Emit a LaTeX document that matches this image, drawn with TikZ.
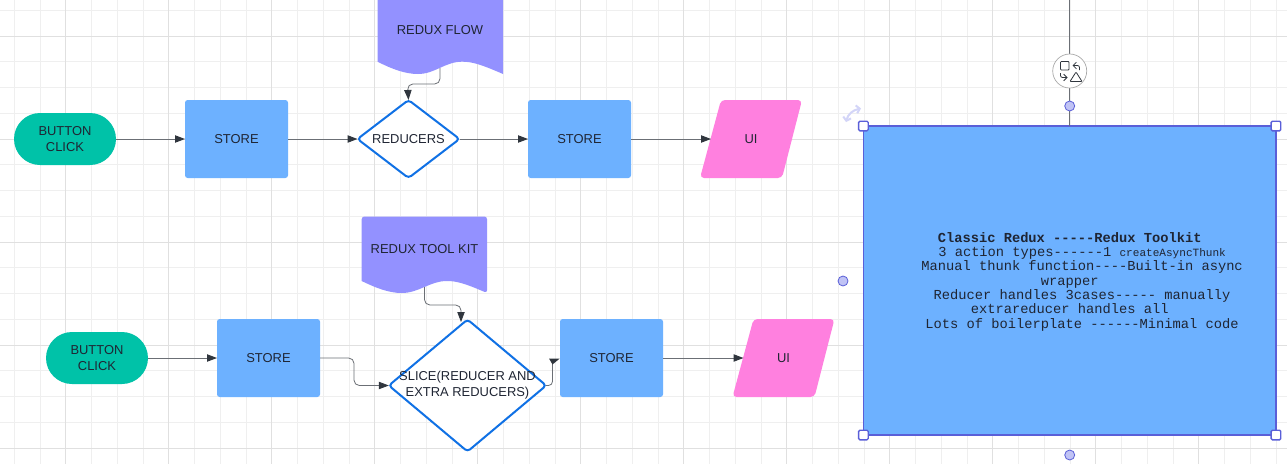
\documentclass[tikz,border=0pt]{standalone}
\usepackage{fontspec}
\setmainfont{Liberation Sans}
\newfontfamily\monotext{Liberation Mono}
\usetikzlibrary{arrows.meta,shapes.geometric}
\definecolor{gridminor}{HTML}{EFEFEF}
\definecolor{gridmajor}{HTML}{E0E0E0}
\definecolor{inkdark}{HTML}{1F2533}
\definecolor{linegray}{HTML}{6B6F75}
\definecolor{tipdark}{HTML}{30363E}
\definecolor{teal}{HTML}{00C2A8}
\definecolor{skyfill}{HTML}{6DB1FF}
\definecolor{lilac}{HTML}{9391FF}
\definecolor{pinkfill}{HTML}{FF80DF}
\definecolor{edgeblue}{HTML}{1071E5}
\definecolor{selectblue}{HTML}{5A5FD8}
\definecolor{dotfill}{HTML}{C0C3F5}
\tikzset{
  startbox/.style={fill=teal,rounded corners=19.5pt,minimum width=76.5pt,minimum height=39pt,align=center,outer sep=0pt},
  storebox/.style={fill=skyfill,rounded corners=2pt,minimum width=77.25pt,minimum height=58.5pt,outer sep=0pt},
  decision/.style={shape=diamond,draw=edgeblue,line width=1.5pt,fill=white,rounded corners=2.5pt,inner sep=0pt,outer sep=0pt},
  uilabel/.style={minimum width=60pt,minimum height=58.5pt,outer sep=0pt},
  uishape/.pic={\fill[pinkfill,rounded corners=3pt] (-30,-39) -- (51,-39) -- (31,39) -- (-51,39) -- cycle;},
  flowline/.style={draw=linegray,line width=0.75pt,-{Triangle[length=7.5pt,width=5.5pt,color=tipdark]}},
  bentline/.style={flowline,rounded corners=4pt,line width=0.6pt},
  handle/.style={draw=selectblue,fill=white,line width=1pt,rounded corners=1pt,minimum size=7.25pt,inner sep=0pt},
  sidedot/.style={circle,draw=selectblue,fill=dotfill,line width=0.6pt,minimum size=7.5pt,inner sep=0pt},
  iconline/.style={draw=tipdark,line width=0.6pt},
}
\begin{document}
\begin{tikzpicture}[x=0.75pt,y=-0.75pt,every node/.style={text=inkdark,font=\fontsize{9.7pt}{12pt}\selectfont}]
  \useasboundingbox (0,0) rectangle (1287,464);
  \fill[white] (0,0) rectangle (1287,464);
  % grid
  \foreach \k in {0,...,49} \draw[gridminor,line width=0.6pt] ({14.2+25.75*\k},0) -- ({14.2+25.75*\k},464);
  \foreach \k in {0,...,17} \draw[gridminor,line width=0.6pt] (0,{10.3+25.75*\k}) -- (1287,{10.3+25.75*\k});
  \foreach \k in {0,...,12} \draw[gridmajor,line width=0.6pt] ({65.7+103*\k},0) -- ({65.7+103*\k},464);
  \foreach \k in {0,...,4} \draw[gridmajor,line width=0.6pt] (0,{36+103*\k}) -- (1287,{36+103*\k});
  % classic row
  \fill[lilac] (377.5,0) -- (503,0) -- (503,74) .. controls (480,64) and (472,61.7) .. (462,61.7) .. controls (445,61.7) and (435,74) .. (418,74) .. controls (405,74) and (392,69) .. (377.5,61.7) -- cycle;
  \node (flowtitle) at (440,30.5) {REDUX FLOW};
  \coordinate (flowout) at (440,68);
  \coordinate (flowbend) at (407.5,84);
  \node[startbox] (click1) at (65,139) {BUTTON\\CLICK};
  \node[storebox] (store1) at (236.5,139) {STORE};
  \node[decision,minimum width=76.5pt,minimum height=58.5pt,label={center:REDUCERS}] (reducers) at (408.5,139) {};
  \node[storebox] (store2) at (579.5,139) {STORE};
  \pic at (751,139) {uishape};
  \node[uilabel] (ui1) at (751,139) {UI};
  \draw[flowline] (click1) -- (store1);
  \draw[flowline] (store1) -- (reducers);
  \draw[flowline] (reducers) -- (store2);
  \draw[flowline] (store2) -- (ui1);
  \draw[bentline] (flowout) -- (flowout |- flowbend) -- (flowbend) -- (reducers.north);
  % toolkit row
  \fill[lilac,rounded corners=2pt] (361.7,281) -- (361.7,216.5) -- (487,216.5) -- (487,293) [sharp corners] .. controls (464,283) and (456,281) .. (446.7,281) .. controls (430,281) and (419,293) .. (401.7,293) .. controls (389,293) and (376,288) .. (361.7,281);
  \node (kittitle) at (424.5,249.5) {REDUX TOOL KIT};
  \coordinate (kitout) at (424.5,287);
  \coordinate (kitbend) at (461,305);
  \coordinate (slicein) at (461,322);
  \node[startbox] (click2) at (97,358) {BUTTON\\CLICK};
  \node[storebox] (store3) at (268.5,358) {STORE};
  \node[decision,minimum width=118pt,minimum height=99pt,label={[align=center]center:SLICE(REDUCER AND\\EXTRA REDUCERS)}] (slice) at (467.5,385.5) {};
  \node[storebox] (store4) at (611.5,358) {STORE};
  \pic at (783.5,358) {uishape};
  \node[uilabel] (ui2) at (783.5,358) {UI};
  \coordinate (sideup) at (552.5,362);
  \coordinate (storebend) at (354,385.5);
  \draw[flowline] (click2) -- (store3);
  \draw[bentline] (store3.east) -| (storebend) -- (slice.west);
  \draw[flowline] (store4) -- (ui2);
  \draw[bentline] (kitout) -- (kitout |- kitbend) -- (kitbend) -- (slicein);
  \draw[draw=linegray,line width=0.6pt,rounded corners=3pt] (slice.east) -| (sideup);
  \fill[tipdark] (549,358.5) -- (559.7,358.5) -- (552.5,364.5) -- cycle;
  % selected box
  \coordinate (topend) at (1069.7,0);
  \node[storebox,rounded corners=0pt,draw=selectblue,line width=0.8pt,minimum width=309.4pt,minimum height=231.75pt] (summary) at (1069.7,280.5) {};
  \node[align=center,font=\fontsize{10.3pt}{10.75pt}\selectfont\monotext] (summarytext) at (1069.7,281.5)
    {\textbf{Classic Redux -----Redux Toolkit}\\
     \phantom{xxx}3 action types------1 {\fontsize{8.3pt}{10.75pt}\selectfont createAsyncThunk}\\
     \phantom{xxx}Manual thunk function----Built-in async\\
     wrapper\\
     \phantom{xxx}Reducer handles 3cases----- manually\\
     extrareducer handles all\\
     \phantom{xxx}Lots of boilerplate ------Minimal code};
  \draw[linegray,line width=0.8pt] (topend) -- (summary.north);
  % shape picker
  \node[circle,draw=gray!70,fill=white,line width=0.5pt,minimum size=25.5pt,inner sep=0pt] (picker) at (1069.7,71) {};
  \draw[iconline,rounded corners=0.6pt] (1060.5,61.5) rectangle (1069,70);
  \draw[iconline,rounded corners=0.6pt] (1076,72) -- (1082,81.5) -- (1070,81.5) -- cycle;
  \draw[iconline,-{Straight Barb[length=2.5pt,width=5pt]},rounded corners=1.5pt] (1079.5,70) -- (1079.5,65.5) -- (1072.5,65.5);
  \draw[iconline,-{Straight Barb[length=2.5pt,width=5pt]},rounded corners=1.5pt] (1060.5,73) -- (1060.5,77.5) -- (1067.5,77.5);
  \node[sidedot] (dottop) at (1069.7,106) {};
  \node[sidedot] (dotleft) at (843,281) {};
  \node[sidedot] (dotbottom) at (1069.7,455) {};
  % handles
  \node[handle] (handlenw) at (summary.north west) {};
  \node[handle] (handlene) at (summary.north east) {};
  \node[handle] (handlesw) at (summary.south west) {};
  \node[handle] (handlese) at (summary.south east) {};
  \draw[dotfill!70!white,line width=1.5pt,{Straight Barb[length=2.5pt,width=6pt]}-{Straight Barb[length=2.5pt,width=6pt]}] (846,122) .. controls (848,114) and (853,110) .. (861,108.5);
\end{tikzpicture}
\end{document}
